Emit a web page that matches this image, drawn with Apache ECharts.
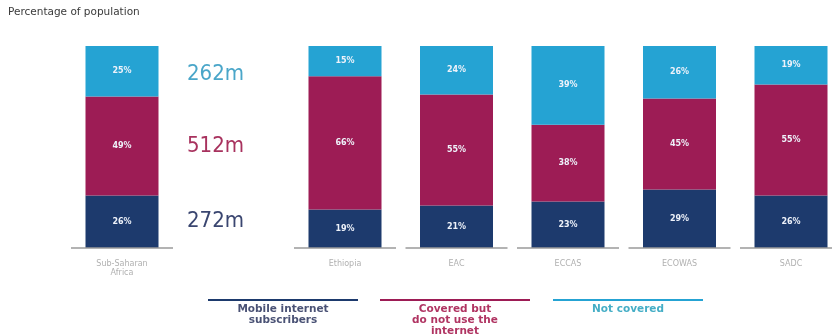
<!DOCTYPE html>
<html>
<head>
<meta charset="utf-8">
<script src="https://cdn.jsdelivr.net/npm/echarts@6/dist/echarts.min.js"></script>
<style>
  html, body { margin: 0; padding: 0; background: #fff; }
  #chart { width: 832px; height: 334px; }
</style>
</head>
<body>
<div id="chart"></div>
<script>
// categories ('' is the gap slot that holds the SSA millions)
const categories = ['Sub-Saharan\nAfrica', '', 'Ethiopia', 'EAC', 'ECCAS', 'ECOWAS', 'SADC'];
const seriesNames = ['Mobile internet\nsubscribers', 'Covered but\ndo not use the\ninternet', 'Not covered'];
const subscribers = [26, null, 19, 21, 23, 29, 26];
const coveredNotUsing = [49, null, 66, 55, 38, 45, 55];
const notCovered = [25, null, 15, 24, 39, 26, 19];
const ssaMillions = [272, 512, 262];

const colors = ['#1d3a6d', '#9d1c55', '#25a3d3'];
const millionColors = ['#3a4670', '#a8325e', '#4aa6c9'];
const legendText = ['#4a5275', '#b03462', '#45aec6'];

const chart = echarts.init(document.getElementById('chart'));

function buildData(values, idx) {
  // gap slot gets the SSA share so the millions sit mid-segment
  return values.map((v, i) => {
    if (i !== 1) return v;
    return {
      value: values[0],
      itemStyle: { color: 'transparent' },
      label: {
        show: true,
        formatter: ssaMillions[idx] + 'm',
        color: millionColors[idx],
        fontFamily: 'Liberation Sans Narrow, DejaVu Sans Condensed, sans-serif',
        fontSize: 22,
        fontWeight: 'normal',
        offset: [-18, idx === 2 ? 3 : 0]
      }
    };
  });
}

const stacks = [subscribers, coveredNotUsing, notCovered].map((vals, idx) => ({
  name: seriesNames[idx],
  type: 'bar',
  stack: 'pop',
  barWidth: 73,
  data: buildData(vals, idx),
  itemStyle: { color: colors[idx] },
  label: {
    show: true,
    position: 'inside',
    formatter: '{c}%',
    color: '#eef2fa',
    fontFamily: 'DejaVu Sans, sans-serif',
    fontWeight: 'bold',
    fontSize: 8
  },
  silent: true
}));

// short baseline under each real bar
const baseline = {
  type: 'custom',
  silent: true,
  data: categories.map((c, i) => (c === '' ? null : [i, 0])),
  renderItem: function (params, api) {
    if (isNaN(api.value(0))) return;
    const p = api.coord([api.value(0), 0]);
    const w = 102;
    return {
      type: 'line',
      shape: { x1: p[0] - w / 2, y1: p[1], x2: p[0] + w / 2, y2: p[1] },
      style: { stroke: '#9a9a9a', lineWidth: 1.5 }
    };
  },
  z: 5
};

// legend: coloured rule with the name centred under it
const legendX = [208, 380, 553];
const legendW = 150;
const legendGraphic = [];
seriesNames.forEach((n, i) => {
  legendGraphic.push({
    type: 'rect',
    x: legendX[i], y: 299,
    shape: { width: legendW, height: 2 },
    style: { fill: colors[i] }
  });
  legendGraphic.push({
    type: 'text',
    x: legendX[i] + legendW / 2, y: 304,
    style: {
      text: n,
      align: 'center',
      fill: legendText[i],
      font: 'bold 10.5px "DejaVu Sans", sans-serif',
      lineHeight: 11
    }
  });
});

chart.setOption({
  animation: false,
  title: {
    text: 'Percentage of population',
    left: 3, top: 2,
    textStyle: { color: '#3a3a3a', fontSize: 10.5, fontWeight: 'normal', fontFamily: 'DejaVu Sans, sans-serif' }
  },
  grid: { left: 122, top: 46, right: 41, height: 202 },
  xAxis: {
    type: 'category',
    boundaryGap: false,
    data: categories,
    axisLine: { show: false },
    axisTick: { show: false },
    axisLabel: {
      color: '#b0b0b0',
      fontSize: 8,
      lineHeight: 9,
      margin: 11,
      fontFamily: 'DejaVu Sans, sans-serif',
      interval: 0
    }
  },
  yAxis: {
    type: 'value',
    min: 0, max: 100,
    show: false,
    splitLine: { show: false }
  },
  series: stacks.concat([baseline]),
  graphic: legendGraphic
});
</script>
</body>
</html>
